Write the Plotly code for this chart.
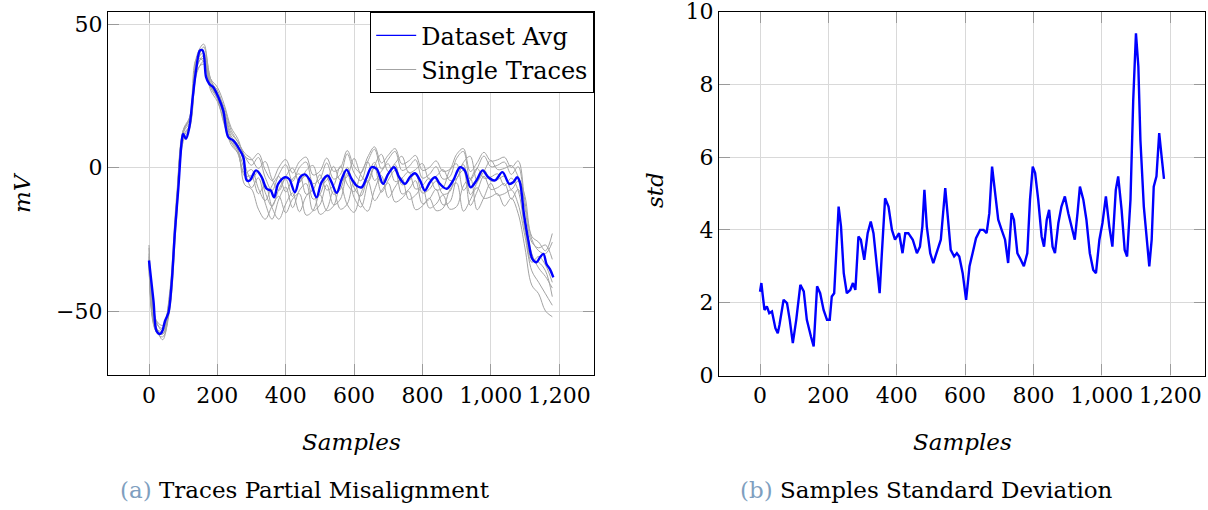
import plotly.graph_objects as go

# ---- data ----

# dataset average (mV) at irregular sample positions
avg_x = [0, 13, 22, 30, 37, 47, 57, 66, 76, 86, 96, 100, 108, 118, 128, 139, 149, 157, 167, 176,
         188, 203, 217, 232, 247, 261, 276, 286, 295, 313, 330, 344, 356, 366, 378, 398, 410, 427,
         442, 456, 471, 490, 505, 523, 534, 549, 564, 578, 593, 607, 622, 637, 651, 666, 685, 700,
         717, 732, 749, 763, 778, 793, 807, 822, 837, 851, 871, 890, 910, 924, 941, 958, 976, 993,
         1012, 1034, 1054, 1066, 1077, 1085, 1097, 1110, 1122, 1134, 1144, 1154, 1163, 1173, 1183]
avg_mv = [-32.4, -46.4, -57, -58, -57.5, -53.4, -50.5, -40.6, -22, -6.9, 9.4, 11.7, 10, 14, 24.5, 35,
          40.8, 40.8, 31.5, 29.2, 28, 24.5, 19.9, 10.6, 9.4, 7, 3.6, -4.5, -4.5, -1, -3.4, -7.4, -8,
          -10.4, -5.7, -3.4, -4, -8.6, -3.4, -2.4, -4.5, -10.4, -5.1, -2.8, -5.1, -8.8, -4, -0.8, -4,
          -6.3, -6.9, -3.4, 0.1, -0.5, -5.7, -2.2, 0.1, -3.4, -5.7, -3.4, -2, -4.5, -8, -5.1, -3.4,
          -5.7, -7.4, -4.5, 0.1, -1, -6.9, -4.5, -1, -3.4, -4.5, -1.6, -5.7, -5.1, -3.4, -5.1, -16.2,
          -25.5, -31.9, -33, -31.3, -30.1, -33.6, -35.4, -38.3]

# single traces, sampled every 20 samples (0 .. 1180)
trace_x = list(range(0, 1181, 20))
single_traces = [
    [-30, -53, -55, -46, -14, 12.5, 17, 37, 40, 30, 27, 20, 12, 9, 4,
     0.8, 3.5, -3.5, -8, -2.4, 1, -4.8, 0, 1.9, -5.6, -4, 1.6, -4, -2.4, 4.8, -1.9, -4.6, 2.1, 6.4,
     -0.5, 2.9, 5.6, -1, 0.3, 2.7, -3.7, -2.4, 0.3, -4, -3.2, 3.2, 5.6, -4.2, -0.3, 4, 0.3, 0.8,
     1.9, -2.4, 0.3, -14, -26, -28, -27, -32],
    [-33, -57, -59, -50, -19, 9, 14, 33, 37, 27, 23, 16, 8, 5, -3,
     -3, -9.1, -6, -14, -18, -12.7, -8.9, -15.4, -10, -7.8, -16.3, -14.5, -8.2, -14.5, -12.7, -4.6,
     -12.2, -15.2, -7.7, -2.8, -10.5, -6.8, -3.7, -11.1, -9.6, -6.9, -14.1, -12.7, -9.6, -14.5,
     -13.6, -6.4, -3.7, -14.7, -10.4, -5.5, -9.6, -9.1, -7.8, -12.7, -24, -36, -40, -44, -48],
    [-31, -56, -57, -44, -11, 12, 18, 38, 37, 29, 24, 15, 9, 5, -2,
     -0.7, -7.3, -11.5, -6.3, -3.1, -8.5, -4, -2.2, -9.3, -7.8, -2.5, -7.8, -6.3, 0.5, -5.8, -8.4,
     -2.1, 2, -4.5, -1.3, 1.3, -4.9, -3.7, -1.5, -7.5, -6.3, -3.7, -7.8, -7, -1, 1.3, -7.9, -4.3,
     -0.3, -3.7, -3.3, -2.2, -6.3, -3.7, -8, -22, -33, -31, -34, -40],
    [-34, -56, -58, -49, -17, 11, 15, 35, 39, 28, 24, 18, 10, 6, -1,
     -7, -3.6, -12.4, -18, -11, -6.8, -14, -8, -5.6, -15, -13, -6, -13, -11, -2, -10.4, -13.8, -5.4,
     0, -8.6, -4.4, -1, -9.2, -7.6, -4.6, -12.6, -11, -7.6, -13, -12, -4, -1, -13.2, -8.4, -3, -7.6,
     -7, -5.6, -11, -7.6, -18, -30, -35, -38, -42],
    [-28, -54, -56, -45, -13, 13, 17, 36, 42, 31, 26, 21, 13, 9, 5,
     3, -0.3, 2.1, -4.1, -8, -3.1, -0.2, -5.2, -1, 0.7, -5.9, -4.5, 0.4, -4.5, -3.1, 3.2, -2.7, -5.1,
     0.8, 4.6, -1.4, 1.5, 3.9, -1.8, -0.7, 1.4, -4.2, -3.1, -0.7, -4.5, -3.8, 1.8, 3.9, -4.6, -1.3,
     2.5, -0.7, -0.3, 0.7, -3.1, -10, -24, -26, -29, -23],
    [-32, -57, -58, -47, -15, 10, 15, 34, 36, 28, 25, 17, 9, 6, -6,
     -7.5, -14.5, -18, -13.4, -10, -15.8, -11, -9.1, -16.6, -15, -9.4, -15, -13.4, -6.2, -12.9,
     -15.6, -8.9, -4.6, -11.5, -8.1, -5.4, -12, -10.7, -8.3, -14.7, -13.4, -10.7, -15, -14.2, -7.8,
     -5.4, -15.2, -11.3, -7, -10.7, -10.2, -9.1, -13.4, -10.7, -16, -28, -41, -44, -50, -52],
    [-33, -55, -60, -48, -16, 12, 16, 36, 38, 29, 25, 19, 11, 8, 1,
     -4.2, -1.3, -8.7, -13.5, -7.6, -4, -10.1, -5, -3, -11, -9.3, -3.3, -9.3, -7.6, 0.1, -7, -9.9,
     -2.8, 1.8, -5.5, -1.9, 1, -6, -4.7, -2.1, -8.9, -7.6, -4.7, -9.3, -8.4, -1.6, 1, -9.4, -5.3,
     -0.8, -4.7, -4.2, -3, -7.6, -4.7, -20, -32, -33, -36, -45],
    [-27, -53, -57, -46, -15, 13, 18, 39, 43, 31, 28, 22, 14, 10, 4,
     2.7, 4.9, -0.9, -4.5, 0.1, 2.8, -1.9, 2, 3.6, -2.6, -1.3, 3.3, -1.3, 0, 5.9, 0.4, -1.8, 3.7,
     7.2, 1.6, 4.3, 6.6, 1.2, 2.3, 4.2, -1, 0, 2.3, -1.3, -0.6, 4.6, 6.6, -1.4, 1.7, 5.3, 2.3, 2.7,
     3.6, 0, 2.3, -12, -25, -29, -30, -26],
]

# standard deviation per sample
std_x = [0, 4, 8, 13, 20, 27, 35, 45, 52, 57, 69, 79, 87, 96, 106, 118, 128, 137, 149, 157, 167,
         176, 186, 196, 204, 210, 217, 223, 230, 237, 245, 254, 264, 272, 279, 288, 295, 305, 315,
         324, 332, 342, 350, 356, 366, 376, 386, 395, 407, 417, 425, 434, 447, 459, 468, 475, 481,
         488, 498, 507, 519, 529, 542, 548, 558, 568, 576, 583, 593, 603, 613, 622, 632, 644, 654,
         663, 671, 679, 688, 697, 707, 717, 726, 736, 743, 753, 763, 772, 782, 790, 798, 805, 814,
         824, 831, 839, 846, 856, 863, 873, 882, 892, 902, 912, 921, 929, 936, 946, 955, 965, 975,
         983, 993, 1002, 1012, 1022, 1031, 1041, 1048, 1058, 1067, 1074, 1084, 1092, 1100, 1107,
         1113, 1123, 1131, 1139, 1146, 1152, 1160, 1168, 1175, 1182]
std_val = [2.3, 2.54, 2.2, 1.8, 1.9, 1.71, 1.76, 1.3, 1.16, 1.39, 2.08, 1.99, 1.53, 0.89, 1.53, 2.49,
           2.31, 1.53, 1.07, 0.8, 2.45, 2.26, 1.8, 1.53, 1.53, 2.17, 2.26, 3.45, 4.64, 4.09, 2.81,
           2.26, 2.35, 2.54, 2.35, 3.82, 3.73, 3.18, 3.91, 4.23, 3.91, 3.0, 2.26, 3.27, 4.87, 4.64,
           4.0, 3.73, 3.91, 3.36, 3.91, 3.91, 3.73, 3.36, 3.54, 4.09, 5.1, 4.09, 3.36, 3.09, 3.45,
           3.73, 5.15, 4.46, 3.45, 3.27, 3.36, 3.27, 2.81, 2.08, 3.0, 3.36, 3.77, 4.0, 4.0, 3.91,
           4.46, 5.74, 4.92, 4.28, 4.0, 3.73, 3.09, 4.46, 4.28, 3.36, 3.18, 3.0, 3.36, 4.83, 5.74,
           5.56, 4.83, 3.82, 3.54, 4.28, 4.55, 3.54, 3.36, 4.19, 4.64, 4.92, 4.46, 4.09, 3.73, 4.46,
           5.19, 4.83, 4.28, 3.36, 2.9, 2.81, 3.73, 4.19, 4.92, 4.09, 3.54, 5.1, 5.47, 4.55, 3.45,
           3.27, 4.83, 7.57, 9.4, 8.49, 6.47, 4.64, 3.73, 3.0, 3.73, 5.19, 5.47, 6.66, 6.02, 5.4]

x_ticks = [0, 200, 400, 600, 800, 1000, 1200]
mv_ticks = [-50, 0, 50]
std_ticks = [0, 2, 4, 6, 8, 10]

# ---- figure ----
FONT = "DejaVu Serif"
BLUE = "#0000ff"
GRAY = "#a3a3a3"
fig = go.Figure()

for ys in single_traces:
    fig.add_trace(go.Scatter(x=trace_x, y=ys, mode="lines", line=dict(color=GRAY, width=1, shape="spline"),
                             showlegend=False, xaxis="x", yaxis="y"))
fig.add_trace(go.Scatter(x=avg_x, y=avg_mv, mode="lines", line=dict(color=BLUE, width=2.4, shape="spline"),
                         showlegend=False, xaxis="x", yaxis="y"))
fig.add_trace(go.Scatter(x=std_x, y=std_val, mode="lines", line=dict(color=BLUE, width=2.4),
                         showlegend=False, xaxis="x2", yaxis="y2"))
# legend entries (thin sample lines, as in the pgfplots legend)
fig.add_trace(go.Scatter(x=[None], y=[None], mode="lines", line=dict(color=BLUE, width=1.2),
                         name="Dataset Avg", xaxis="x", yaxis="y"))
fig.add_trace(go.Scatter(x=[None], y=[None], mode="lines", line=dict(color=GRAY, width=1.2),
                         name="Single Traces", xaxis="x", yaxis="y"))

ax = dict(showgrid=True, gridcolor="#d9d9d9", gridwidth=1, zeroline=False,
          showline=True, linecolor="black", linewidth=1.2, mirror="allticks",
          ticks="inside", ticklen=11, tickcolor="#9a9a9a", tickwidth=1.2,
          ticklabeloverflow="allow", automargin=False,
          tickfont=dict(family=FONT, size=22, color="black"))

fig.update_layout(
    width=1208, height=510,
    margin=dict(l=0, r=0, t=0, b=0),
    paper_bgcolor="white", plot_bgcolor="white",
    font=dict(family=FONT, size=22, color="black"),
    xaxis=dict(ax, domain=[108 / 1208, 594 / 1208], range=[-120, 1302], tickvals=x_ticks,
               tickformat=",d", anchor="y"),
    yaxis=dict(ax, domain=[1 - 375 / 510, 1 - 12 / 510], range=[-72.3, 54.2], tickvals=mv_ticks, anchor="x"),
    xaxis2=dict(ax, domain=[719 / 1208, 1205 / 1208], range=[-120, 1302], tickvals=x_ticks,
                tickformat=",d", anchor="y2"),
    yaxis2=dict(ax, domain=[1 - 375.5 / 510, 1 - 11.5 / 510], range=[0, 10], tickvals=std_ticks, anchor="x2"),
    legend=dict(x=594 / 1208, y=1 - 12 / 510, xanchor="right", yanchor="top",
                bgcolor="white", bordercolor="black", borderwidth=1.2,
                font=dict(family=FONT, size=24), itemwidth=40),
)

notes = [
    (351, 442, "<i>Samples</i>", 0),
    (962, 442, "<i>Samples</i>", 0),
    (22, 193, "<i>mV</i>", -90),
    (655, 190, "<i>std</i>", -90),
    (305, 490, '<span style="color:#7f9fbf">(a)</span> Traces Partial Misalignment', 0),
    (926, 490, '<span style="color:#7f9fbf">(b)</span> Samples Standard Deviation', 0),
]
for px, py, txt, ang in notes:
    fig.add_annotation(x=px / 1208, y=1 - py / 510, xref="paper", yref="paper", text=txt,
                       showarrow=False, textangle=ang, xanchor="center", yanchor="middle",
                       font=dict(family=FONT, size=23, color="black"))

# drop the default body margin so the figure sits at the page origin
fig.write_html("out.html", config={"displayModeBar": False},
               post_script="document.body.style.margin='0';")
